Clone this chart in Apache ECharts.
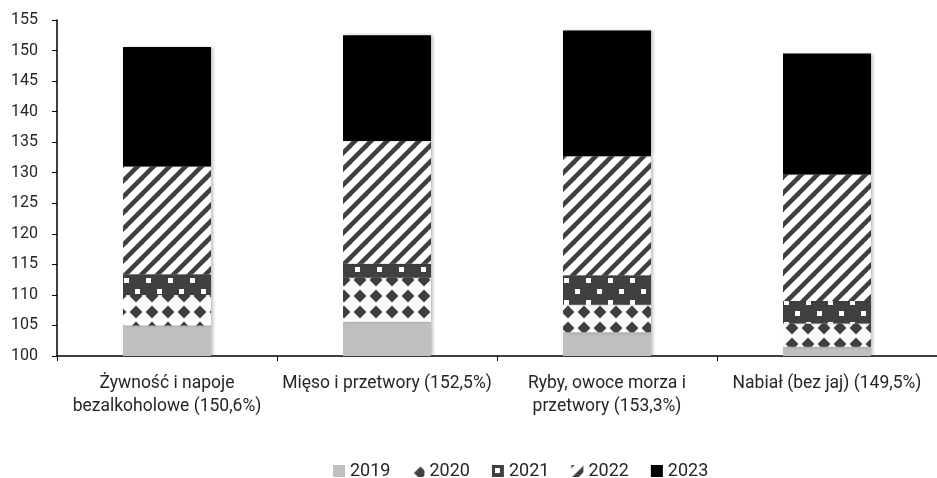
<!DOCTYPE html>
<html>
<head>
<meta charset="utf-8">
<script src="https://cdn.jsdelivr.net/npm/echarts@6/dist/echarts.min.js"></script>
<style>
    html, body { margin: 0; padding: 0; background: #fff; }
    #chart { width: 937px; height: 478px; }
</style>
</head>
<body>
<div id="chart"></div>
<script>
// categories (x axis)
var categories = [
    "Żywność i napoje\nbezalkoholowe (150,6%)",
    "Mięso i przetwory (152,5%)",
    "Ryby, owoce morza i\nprzetwory (153,3%)",
    "Nabiał (bez jaj) (149,5%)"
];

// stacked pieces (2019 = level, then yearly increments)
var years = ["2019", "2020", "2021", "2022", "2023"];
var v2019 = [105.0, 105.6, 103.9, 101.5];
var v2020 = [5.0, 7.2, 4.5, 3.8];
var v2021 = [3.4, 2.3, 4.8, 3.7];
var v2022 = [17.6, 20.1, 19.5, 20.7];
var v2023 = [19.6, 17.3, 20.6, 19.8];

// y axis
var yMin = 100, yMax = 155, yStep = 5;

var dark = '#404040';

function tile(w, h, draw) {
    var c = document.createElement('canvas');
    c.width = w; c.height = h;
    var ctx = c.getContext('2d');
    draw(ctx);
    return { image: c, repeat: 'repeat' };
}

// 2020 - dark diamonds on white
var pat2020 = tile(16, 16, function(ctx){
    ctx.fillStyle = '#fff';
    ctx.fillRect(0, 0, 16, 16);
    ctx.fillStyle = dark;
    ctx.beginPath();
    ctx.moveTo(8, 1.5);
    ctx.lineTo(14.5, 8);
    ctx.lineTo(8, 14.5);
    ctx.lineTo(1.5, 8);
    ctx.closePath();
    ctx.fill();
});

// 2021 - white squares on dark grey
var pat2021 = tile(22, 22, function(ctx){
    ctx.fillStyle = dark;
    ctx.fillRect(0, 0, 22, 22);
    ctx.fillStyle = '#fff';
    ctx.fillRect(3, 3, 5, 5);
    ctx.fillRect(14, 14, 5, 5);
});

// 2022 - diagonal stripes
var pat2022 = tile(16, 16, function(ctx){
    ctx.fillStyle = '#fff';
    ctx.fillRect(0, 0, 16, 16);
    ctx.strokeStyle = dark;
    ctx.lineWidth = 4.6;
    [-16, 0, 16].forEach(function(k){
        ctx.beginPath();
        ctx.moveTo(k - 2, 18);
        ctx.lineTo(k + 18, -2);
        ctx.stroke();
    });
});

var fills = ['#bfbfbf', pat2020, pat2021, pat2022, '#000000'];
var values = [v2019, v2020, v2021, v2022, v2023];

function genChart(){
    var chart = echarts.init(document.getElementById("chart"));

    var series = years.map(function(y, i){
        return {
            name: y,
            type: 'bar',
            stack: 'total',
            barWidth: 88,
            data: values[i],
            itemStyle: {
                color: fills[i],
                shadowBlur: 3,
                shadowOffsetX: 2,
                shadowColor: 'rgba(0,0,0,0.25)'
            }
        };
    });

    var option = {
        animation: false,
        textStyle: { fontFamily: 'Roboto' },
        grid: {
            left: 57,
            right: 0,
            top: 20,
            bottom: 122
        },
        legend: {
            data: years,
            top: 457,
            left: 328,
            itemWidth: 12,
            itemHeight: 12,
            itemGap: 22,
            icon: 'rect',
            textStyle: { fontSize: 18, color: '#262626', fontFamily: 'Roboto' }
        },
        xAxis: {
            type: 'category',
            data: categories,
            axisLine: { lineStyle: { color: '#000', width: 1.5 } },
            axisTick: { show: true, length: 5, lineStyle: { color: '#000' } },
            axisLabel: {
                interval: 0,
                margin: 16,
                fontSize: 17.5,
                lineHeight: 23,
                color: '#262626',
                fontFamily: 'Roboto'
            }
        },
        yAxis: {
            type: 'value',
            min: yMin,
            max: yMax,
            interval: yStep,
            splitLine: { show: false },
            axisLine: { show: true, lineStyle: { color: '#000', width: 1.5 } },
            axisTick: { show: true, length: 5, lineStyle: { color: '#000' } },
            axisLabel: {
                margin: 19,
                fontSize: 16,
                color: '#262626',
                fontFamily: 'Roboto'
            }
        },
        series: series
    };

    chart.setOption(option);
    window.addEventListener('resize', function() { chart.resize(); });
}

genChart();
</script>
</body>
</html>
